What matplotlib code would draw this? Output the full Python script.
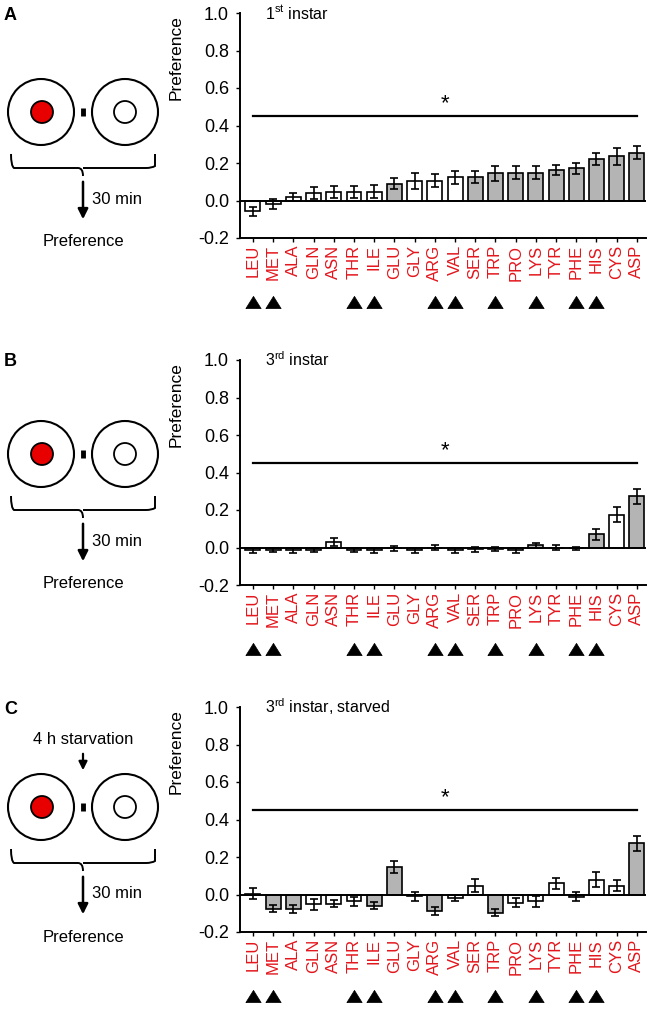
import matplotlib
matplotlib.use("Agg")
import matplotlib.pyplot as plt
import numpy as np
from matplotlib.patches import Circle
from matplotlib.path import Path
from matplotlib.patches import PathPatch

plt.rcParams['font.family'] = ['Liberation Sans', 'DejaVu Sans']

amino = ["LEU", "MET", "ALA", "GLN", "ASN", "THR", "ILE", "GLU", "GLY", "ARG",
         "VAL", "SER", "TRP", "PRO", "LYS", "TYR", "PHE", "HIS", "CYS", "ASP"]
essential = ["LEU", "MET", "THR", "ILE", "ARG", "VAL", "TRP", "LYS", "PHE", "HIS"]

# panel A - 1st instar
pref_a = [-0.057, -0.02, 0.018, 0.04, 0.045, 0.045, 0.048, 0.089, 0.105, 0.105,
          0.123, 0.128, 0.146, 0.148, 0.148, 0.164, 0.172, 0.222, 0.235, 0.256]
err_a = [0.025, 0.027, 0.02, 0.034, 0.034, 0.034, 0.033, 0.03, 0.042, 0.034,
         0.036, 0.032, 0.04, 0.034, 0.034, 0.026, 0.028, 0.031, 0.043, 0.037]
gray_a = [0, 0, 0, 0, 0, 0, 0, 1, 0, 0, 0, 1, 1, 1, 1, 1, 1, 1, 1, 1]

# panel B - 3rd instar
pref_b = [-0.015, -0.012, -0.015, -0.013, 0.03, -0.013, -0.015, -0.005, -0.015, 0.0,
          -0.015, -0.01, -0.008, -0.015, 0.012, 0.0, -0.005, 0.07, 0.176, 0.274]
err_b = [0.012, 0.012, 0.012, 0.012, 0.023, 0.012, 0.012, 0.012, 0.012, 0.015,
         0.012, 0.012, 0.012, 0.012, 0.012, 0.015, 0.01, 0.028, 0.04, 0.04]
gray_b = [1, 1, 1, 1, 0, 1, 1, 1, 1, 1, 1, 1, 1, 1, 1, 1, 1, 1, 0, 1]

# panel C - 3rd instar, starved
pref_c = [0.005, -0.075, -0.078, -0.053, -0.048, -0.036, -0.06, 0.148, -0.01, -0.087,
          -0.018, 0.048, -0.096, -0.043, -0.037, 0.059, -0.012, 0.08, 0.048, 0.274]
err_c = [0.028, 0.02, 0.02, 0.028, 0.02, 0.025, 0.018, 0.033, 0.024, 0.02,
         0.018, 0.034, 0.02, 0.025, 0.03, 0.03, 0.025, 0.042, 0.03, 0.04]
gray_c = [0, 1, 1, 0, 0, 0, 1, 1, 0, 1, 0, 0, 1, 0, 0, 0, 1, 0, 0, 1]

panels = [("A", "1$^{\\rm st}$ instar", pref_a, err_a, gray_a, False),
          ("B", "3$^{\\rm rd}$ instar", pref_b, err_b, gray_b, False),
          ("C", "3$^{\\rm rd}$ instar, starved", pref_c, err_c, gray_c, True)]

W, H = 653, 1011
fig = plt.figure(figsize=(W / 100, H / 100), dpi=100)
plt.rcParams['mathtext.fontset'] = 'custom'
plt.rcParams['mathtext.rm'] = 'Liberation Sans'

# overlay in pixel coords for the schematic drawings
ov = fig.add_axes([0, 0, 1, 1])
ov.set_xlim(0, W)
ov.set_ylim(H, 0)
ov.axis("off")
ov.set_zorder(-1)

red = "#e3161c"
x = np.arange(len(amino))
tri = [(-1, -0.8), (1, -0.8), (0, 0.8), (-1, -0.8)]

for k, (letter, title, vals, errs, gray, starved) in enumerate(panels):
    off = 347 * k
    top, bot = 13 + off, 238 + off
    ax = fig.add_axes([240 / W, 1 - bot / H, (646 - 240) / W, (bot - top) / H])
    cols = ["#b4b4b4" if g else "white" for g in gray]
    ax.bar(x, vals, width=0.74, color=cols, edgecolor="black", linewidth=1.2, zorder=2)
    ax.errorbar(x, vals, yerr=errs, fmt="none", ecolor="black", elinewidth=1.2,
                capsize=2.8, capthick=1.2, zorder=3)
    ax.axhline(0, color="black", lw=1.4, zorder=4)
    ax.plot([0, 19], [0.45, 0.45], color="black", lw=1.6)
    ax.text(9.5, 0.46, "*", ha="center", va="bottom", fontsize=16)
    ax.text(0.6, 1.0, title, ha="left", va="center", fontsize=11.5)
    ax.set_xlim(-0.64, 19.45)
    ax.set_ylim(-0.2, 1.0)
    ax.set_yticks(np.arange(-0.2, 1.01, 0.2))
    ax.set_yticklabels(["%.1f" % v for v in np.arange(-0.2, 1.01, 0.2)], fontsize=13)
    ax.set_xticks(x)
    ax.set_xticklabels(amino, rotation=90, color=red, fontsize=12)
    ax.tick_params(axis="both", direction="out", length=3, width=1, pad=2)
    ax.tick_params(axis="y", pad=5)
    for s in ["top", "right"]:
        ax.spines[s].set_visible(False)
    for s in ["left", "bottom"]:
        ax.spines[s].set_linewidth(1.4)
    ax.set_ylabel("Preference", fontsize=12.5)
    ax.yaxis.set_label_coords(-0.138, 0.8)
    ess = [i for i, a in enumerate(amino) if a in essential]
    ax.plot(ess, [-0.285] * len(ess), marker=tri, ls="none", color="black", ms=11,
            mew=0.5, transform=ax.get_xaxis_transform(), clip_on=False)

    # schematic
    ov.text(4, 15 + off, letter, fontsize=13, fontweight="bold", ha="left", va="center")
    cy = 112 + off - (5 if k == 1 else 0)
    if k == 2:
        cy = 807
    ov.add_patch(Circle((41, cy), 33, fill=False, ec="black", lw=1.5))
    ov.add_patch(Circle((42, cy), 11, fc="#e80000", ec="black", lw=1.3))
    ov.add_patch(Circle((125, cy), 33, fill=False, ec="black", lw=1.5))
    ov.add_patch(Circle((125, cy), 11, fc="white", ec="black", lw=1.3))
    ov.plot([83, 83], [cy - 4, cy + 4], color="black", lw=3.5, solid_capstyle="butt")
    by = cy + 42
    verts = [(11, by), (11, by + 12), (14, by + 14), (20, by + 14),
             (78, by + 14), (83, by + 14), (83, by + 22),
             (83, by + 14), (88, by + 14), (146, by + 14),
             (152, by + 14), (155, by + 12), (155, by)]
    codes = [Path.MOVETO, Path.CURVE3, Path.CURVE3, Path.LINETO,
             Path.LINETO, Path.CURVE3, Path.CURVE3,
             Path.MOVETO, Path.LINETO, Path.LINETO,
             Path.CURVE3, Path.CURVE3, Path.LINETO]
    ov.add_patch(PathPatch(Path(verts, codes), fill=False, lw=1.4, ec="black"))
    ov.annotate("", xy=(83, by + 68), xytext=(83, by + 25),
                arrowprops=dict(arrowstyle="-|>,head_width=0.3,head_length=0.6",
                                color="black", lw=1.8))
    ov.text(92, by + 45, "30 min", fontsize=12, ha="left", va="center")
    ov.text(83, by + 88, "Preference", fontsize=12, ha="center", va="center")
    if starved:
        ov.text(83, 740, "4 h starvation", fontsize=12, ha="center", va="center")
        ov.annotate("", xy=(83, 773), xytext=(83, 751),
                    arrowprops=dict(arrowstyle="-|>,head_width=0.25,head_length=0.5",
                                    color="black", lw=1.6))

fig.savefig("out.png", dpi=100)
